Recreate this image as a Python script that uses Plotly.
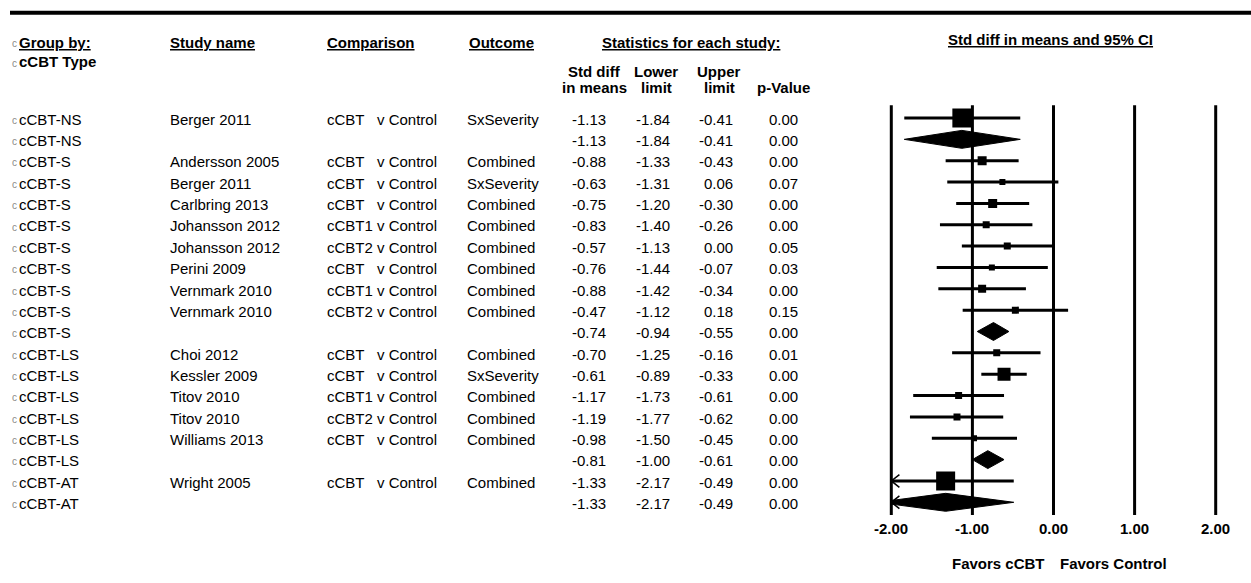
import plotly.graph_objects as go

# ---------------------------------------------------------------- data
group_type = ["cCBT-NS", "cCBT-NS", "cCBT-S", "cCBT-S", "cCBT-S", "cCBT-S", "cCBT-S",
              "cCBT-S", "cCBT-S", "cCBT-S", "cCBT-S", "cCBT-LS", "cCBT-LS", "cCBT-LS",
              "cCBT-LS", "cCBT-LS", "cCBT-LS", "cCBT-AT", "cCBT-AT"]
study_name = ["Berger 2011", "", "Andersson 2005", "Berger 2011", "Carlbring 2013",
              "Johansson 2012", "Johansson 2012", "Perini 2009", "Vernmark 2010",
              "Vernmark 2010", "", "Choi 2012", "Kessler 2009", "Titov 2010", "Titov 2010",
              "Williams 2013", "", "Wright 2005", ""]
comparison = ["cCBT   v Control", "", "cCBT   v Control", "cCBT   v Control", "cCBT   v Control",
              "cCBT1 v Control", "cCBT2 v Control", "cCBT   v Control", "cCBT1 v Control",
              "cCBT2 v Control", "", "cCBT   v Control", "cCBT   v Control", "cCBT1 v Control",
              "cCBT2 v Control", "cCBT   v Control", "", "cCBT   v Control", ""]
outcome = ["SxSeverity", "", "Combined", "SxSeverity", "Combined", "Combined", "Combined",
           "Combined", "Combined", "Combined", "", "Combined", "SxSeverity", "Combined",
           "Combined", "Combined", "", "Combined", ""]
std_diff = [-1.13, -1.13, -0.88, -0.63, -0.75, -0.83, -0.57, -0.76, -0.88, -0.47, -0.74,
            -0.70, -0.61, -1.17, -1.19, -0.98, -0.81, -1.33, -1.33]
lower_limit = [-1.84, -1.84, -1.33, -1.31, -1.20, -1.40, -1.13, -1.44, -1.42, -1.12, -0.94,
               -1.25, -0.89, -1.73, -1.77, -1.50, -1.00, -2.17, -2.17]
upper_limit = [-0.41, -0.41, -0.43, 0.06, -0.30, -0.26, 0.00, -0.07, -0.34, 0.18, -0.55,
               -0.16, -0.33, -0.61, -0.62, -0.45, -0.61, -0.49, -0.49]
p_value = [0.00, 0.00, 0.00, 0.07, 0.00, 0.00, 0.05, 0.03, 0.00, 0.15, 0.00,
           0.01, 0.00, 0.00, 0.00, 0.00, 0.00, 0.00, 0.00]
axis_ticks = [-2, -1, 0, 1, 2]
axis_tick_text = ["-2.00", "-1.00", "0.00", "1.00", "2.00"]

# ---------------------------------------------------------------- styling
W, H = 1251, 583
FONT = "Liberation Sans, Arial, sans-serif"
FS = 15
box_size = [19, None, 9, 6, 9, 7, 7, 6, 8, 7, None, 7, 13, 7, 7, 6, None, 19, None]
DIAMOND_H = 0.42
ROW0_PX, ROW_PX = 118.0, 21.35
n = len(std_diff)
rows = list(range(1, n + 1))
CLIP = -2.0


def px(x):
    return x / W


def py(y):
    return 1 - y / H


fig = go.Figure()

# confidence-interval whiskers (clipped to the axis)
cx, cy = [], []
for r, lo, hi, s in zip(rows, lower_limit, upper_limit, study_name):
    if s:
        cx += [max(lo, CLIP), hi, None]
        cy += [r, r, None]
fig.add_trace(go.Scatter(x=cx, y=cy, mode="lines", line=dict(color="black", width=3),
                         hoverinfo="skip", showlegend=False))

# study point estimates
sx = [e for e, s in zip(std_diff, study_name) if s]
sy = [r for r, s in zip(rows, study_name) if s]
ss = [b for b, s in zip(box_size, study_name) if s]
fig.add_trace(go.Scatter(x=sx, y=sy, mode="markers",
                         marker=dict(symbol="square", size=ss, color="black", opacity=1,
                                     line=dict(width=0)),
                         hoverinfo="skip", showlegend=False))

# pooled estimates as diamonds
for r, e, lo, hi, s in zip(rows, std_diff, lower_limit, upper_limit, study_name):
    if s:
        continue
    if lo < CLIP:
        h_edge = DIAMOND_H * (CLIP - lo) / (e - lo)
        dx = [CLIP, e, hi, e, CLIP, CLIP]
        dy = [r - h_edge, r - DIAMOND_H, r, r + DIAMOND_H, r + h_edge, r - h_edge]
    else:
        dx = [lo, e, hi, e, lo]
        dy = [r, r - DIAMOND_H, r, r + DIAMOND_H, r]
    fig.add_trace(go.Scatter(x=dx, y=dy, mode="lines", fill="toself", fillcolor="black",
                             line=dict(color="black", width=1), hoverinfo="skip",
                             showlegend=False))

# arrows where an interval runs past the left edge
for r, lo in zip(rows, lower_limit):
    if lo < CLIP:
        fig.add_trace(go.Scatter(x=[CLIP + 0.1, CLIP, CLIP + 0.1], y=[r - 0.3, r, r + 0.3],
                                 mode="lines", line=dict(color="black", width=1.5),
                                 hoverinfo="skip", showlegend=False))

shapes = []
# reference lines at each axis tick
for t in axis_ticks:
    shapes.append(dict(type="line", xref="x", yref="y", x0=t, x1=t, y0=0.4, y1=n + 0.6,
                       line=dict(color="black", width=3), layer="below"))
# heavy rule across the top
shapes.append(dict(type="line", xref="paper", yref="paper", x0=px(10), x1=1,
                   y0=py(12.7), y1=py(12.7), line=dict(color="black", width=4)))

ann = []


def text(x, y, s, anchor="left", bold=False, size=FS, yref="paper", xref="paper", color="black"):
    ann.append(dict(x=x, y=y, xref=xref, yref=yref, text=f"<b>{s}</b>" if bold else s,
                    showarrow=False, xanchor=anchor, yanchor="middle",
                    font=dict(family=FONT, size=size, color=color)))


# column headers
text(px(17), py(43), "<u>Group by:</u>", bold=True)
text(px(17), py(62), "cCBT Type", bold=True)
text(px(168), py(43), "<u>Study name</u>", bold=True)
text(px(325), py(43), "<u>Comparison</u>", bold=True)
text(px(467), py(43), "<u>Outcome</u>", bold=True)
text(px(691), py(43), "<u>Statistics for each study:</u>", "center", bold=True)
text(px(594), py(71), "Std diff", "center", bold=True)
text(px(594), py(87), "in means", "center", bold=True)
text(px(656), py(71), "Lower", "center", bold=True)
text(px(656), py(87), "limit", "center", bold=True)
text(px(719), py(71), "Upper", "center", bold=True)
text(px(719), py(87), "limit", "center", bold=True)
text(px(784), py(87), "p-Value", "center", bold=True)
text(px(1050), py(40), "<u>Std diff in means and 95% CI</u>", "center", bold=True)
for yy in (43, 62):
    text(px(10), py(yy + 1), "c", size=10, color="#8a8a8a")

# table body
for r, g, s, c, o, e, lo, hi, p in zip(rows, group_type, study_name, comparison, outcome,
                                       std_diff, lower_limit, upper_limit, p_value):
    yr = r + 1.2 / ROW_PX
    text(px(10), yr + 0.05, "c", size=10, yref="y", color="#8a8a8a")
    text(px(17), yr, g, yref="y")
    if s:
        text(px(168), yr, s, yref="y")
        text(px(325), yr, c.replace(" ", "\u00a0"), yref="y")
        text(px(465), yr, o, yref="y")
    text(px(608), yr, f"{e:.2f}", "right", yref="y")
    text(px(672), yr, f"{lo:.2f}", "right", yref="y")
    text(px(735), yr, f"{hi:.2f}", "right", yref="y")
    text(px(800), yr, f"{p:.2f}", "right", yref="y")

# axis labels under the forest plot
for t, lab in zip(axis_ticks, axis_tick_text):
    text(t, py(528), lab, "center", bold=True, xref="x")
text(-0.08, py(563), "Favors cCBT", "right", bold=True, xref="x")
text(0.06, py(563), "Favors Control", "left", bold=True, xref="x")

unit = 81.1
x_lo = -2 - (891.3 - 850.7) / unit
x_hi = 2 + (W - 1215.7) / unit
y_top = 1 - ROW0_PX / ROW_PX
y_bot = 1 + (H - ROW0_PX) / ROW_PX

fig.update_layout(
    width=W, height=H, margin=dict(l=0, r=0, t=0, b=0),
    paper_bgcolor="white", plot_bgcolor="white",
    xaxis=dict(domain=[850.7 / W, 1], range=[x_lo, x_hi], visible=False, fixedrange=True),
    yaxis=dict(domain=[0, 1], range=[y_bot, y_top], visible=False, fixedrange=True),
    shapes=shapes, annotations=ann, showlegend=False,
)

fig.write_html("out.html")
